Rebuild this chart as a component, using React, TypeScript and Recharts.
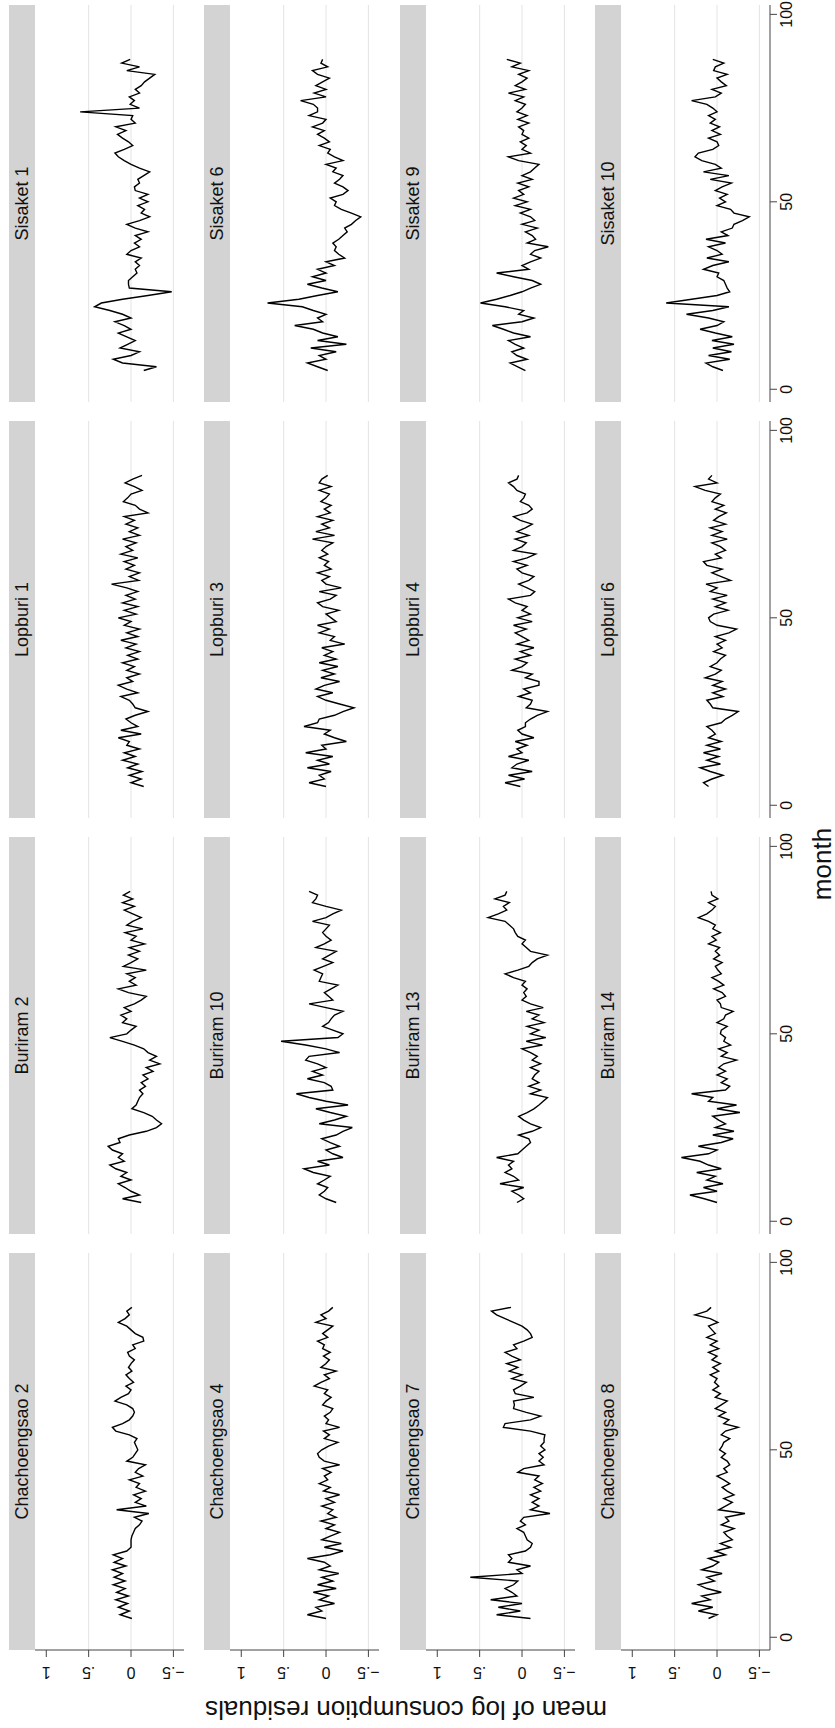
import React from "react";
import { LineChart, Line, XAxis, YAxis, ReferenceLine } from "recharts";

// month index shared by every panel
const months = [
  5, 6, 7, 8, 9, 10, 11, 12, 13, 14, 15, 16, 17, 18, 19, 20, 21, 22, 23, 24,
  25, 26, 27, 28, 29, 30, 31, 32, 33, 34, 35, 36, 37, 38, 39, 40, 41, 42, 43, 44,
  45, 46, 47, 48, 49, 50, 51, 52, 53, 54, 55, 56, 57, 58, 59, 60, 61, 62, 63, 64,
  65, 66, 67, 68, 69, 70, 71, 72, 73, 74, 75, 76, 77, 78, 79, 80, 81, 82, 83, 84,
  85, 86, 87, 88,
];

const chachoengsao2 = [
  -0.01, 0.13, 0.02, 0.15, 0.04, 0.18, 0.03, 0.17, 0.07, 0.21,
  0.07, 0.2, 0.1, 0.22, 0.06, 0.2, 0.1, 0.21, 0.05, 0.0,
  0.0, 0.0, -0.01, -0.03, -0.05, -0.1, -0.13, -0.04, -0.21, 0.17, -0.18,
  -0.05, -0.12, -0.03, -0.17, -0.06, -0.1, 0.02, -0.14, -0.05, -0.09,
  -0.17, 0.05, -0.02, -0.05, -0.08, -0.06, -0.04, -0.07, 0.02, 0.18,
  0.22, 0.1, 0.02, -0.02, -0.04, -0.02, 0.05, 0.19, 0.12, 0.03,
  0.0, 0.06, -0.03, 0.02, 0.06, -0.01, 0.03, 0.0, -0.04, 0.02,
  0.04, -0.05, -0.02, -0.15, -0.14, -0.05, 0.0, 0.05, 0.15, 0.07, 0.02,
  0.05, -0.01,
];
const chachoengsao4 = [
  0.0, 0.22, 0.05, 0.12, -0.1, 0.08, -0.03, 0.15, -0.12, 0.1,
  -0.08, 0.05, -0.15, 0.08, -0.05, 0.02, 0.22, -0.05, -0.2, 0.02,
  -0.18, 0.05, -0.05, -0.16, 0.0, -0.1, 0.06, -0.12, -0.02, -0.08, 0.05,
  -0.1, 0.0, -0.16, 0.03, -0.05, 0.08, -0.02, 0.02, -0.06, 0.04,
  -0.16, 0.02, 0.08, 0.1, 0.05, -0.03, -0.14, 0.02, -0.04, 0.03,
  -0.16, 0.0, -0.03, 0.02, -0.05, -0.08, 0.04, 0.0, -0.06, 0.02,
  -0.02, 0.14, 0.06, -0.04, 0.02, -0.12, 0.06, 0.0, -0.04, 0.03,
  -0.05, 0.04, 0.02, 0.1, -0.02, 0.04, -0.02, -0.08, 0.12, 0.0, 0.06,
  -0.03, -0.08,
];
const chachoengsao7 = [
  -0.1, 0.3, 0.02, 0.28, 0.0, 0.37, 0.06, 0.12, 0.2, 0.1,
  0.05, 0.61, 0.0, 0.06, -0.1, 0.16, 0.12, 0.16, -0.04, -0.1,
  -0.12, -0.06, -0.04, -0.02, 0.06, -0.04, 0.02, -0.02, -0.33, -0.1, -0.2,
  -0.12, -0.2, -0.1, -0.22, -0.14, -0.24, -0.15, -0.2, 0.05, -0.02,
  -0.26, -0.2, -0.25, -0.2, -0.27, -0.22, -0.26, -0.26, -0.27, -0.1,
  0.22, 0.2, -0.1, -0.22, -0.05, 0.1, 0.09, 0.1, -0.14, 0.08,
  0.1, 0.02, -0.05, 0.12, 0.0, 0.15, 0.05, 0.18, 0.02, 0.12,
  0.2, 0.06, 0.1, -0.02, -0.12, -0.1, -0.06, 0.0, 0.1, 0.2, 0.3,
  0.36, 0.13,
];
const chachoengsao8 = [
  0.1, 0.0, 0.22, 0.05, 0.3, 0.08, 0.18, -0.05, 0.12, 0.22,
  0.03, 0.12, -0.06, 0.18, 0.05, -0.02, 0.1, -0.1, 0.02, -0.16,
  -0.04, -0.18, -0.12, -0.08, -0.2, -0.05, -0.14, -0.1, -0.33, -0.02, -0.1,
  -0.18, -0.08, -0.2, -0.12, -0.06, -0.15, -0.08, 0.0, -0.12, -0.08,
  -0.15, -0.12, -0.05, -0.1, -0.03, -0.06, -0.08, -0.15, -0.05, -0.1,
  -0.25, -0.08, -0.14, -0.02, -0.1, 0.02, -0.05, -0.12, 0.02, -0.04,
  0.05, -0.02, 0.03, 0.0, 0.08, -0.02, 0.05, -0.04, 0.06, 0.0,
  0.1, -0.02, 0.08, 0.0, 0.12, 0.02, 0.06, 0.1, -0.01, 0.08, 0.26,
  0.12, 0.07,
];
const buriram2 = [
  -0.12, 0.1, -0.1, 0.0, 0.07, 0.15, 0.0, 0.12, 0.05, 0.18,
  0.25, 0.08, 0.15, 0.1, 0.22, 0.27, 0.13, 0.15, 0.02, -0.18,
  -0.3, -0.36, -0.3, -0.25, -0.15, -0.01, -0.06, -0.08, -0.1, -0.14, -0.1,
  -0.17, -0.12, -0.2, -0.14, -0.26, -0.18, -0.34, -0.22, -0.3, -0.2,
  -0.15, -0.04, 0.1, 0.25, 0.05, 0.0, -0.06, 0.1, 0.05, 0.12,
  0.0, 0.08, -0.04, -0.12, -0.18, 0.03, 0.15, -0.06, 0.02, -0.05,
  0.05, -0.18, 0.09, 0.0, -0.08, 0.03, -0.1, 0.02, -0.16, 0.0,
  -0.06, 0.07, -0.14, 0.05, -0.02, -0.12, -0.02, 0.08, -0.04, 0.1, -0.02,
  0.09, 0.01,
];
const buriram10 = [
  -0.12, 0.0, 0.08, 0.02, -0.02, 0.1, 0.02, -0.05, 0.15, 0.26,
  -0.04, 0.1, -0.2, -0.08, 0.0, -0.16, -0.05, 0.05, -0.12, -0.2,
  -0.31, 0.08, -0.1, -0.24, -0.05, 0.12, -0.26, 0.0, 0.2, 0.35, -0.08,
  -0.06, 0.02, 0.22, 0.04, 0.16, 0.0, 0.1, 0.24, 0.2, -0.16,
  0.0, 0.24, 0.53, -0.14, -0.2, -0.08, 0.04, -0.03, -0.06, -0.1,
  -0.2, 0.0, 0.2, -0.08, -0.03, 0.02, -0.06, -0.14, 0.08, 0.06,
  0.04, 0.14, 0.03, -0.08, 0.04, -0.04, -0.12, 0.12, 0.02, -0.06,
  0.0, 0.04, 0.0, -0.04, 0.16, 0.0, -0.08, -0.18, 0.0, 0.16, 0.12,
  0.1, 0.2,
];
const buriram13 = [
  0.06, -0.02, 0.04, 0.12, -0.02, 0.26, 0.04, 0.1, 0.2, 0.12,
  0.16, 0.1, 0.3, 0.05, 0.0, -0.05, -0.1, -0.08, 0.04, -0.12,
  -0.22, -0.1, -0.02, 0.04, -0.06, -0.14, -0.2, -0.25, -0.3, -0.1, -0.22,
  -0.08, -0.2, -0.12, -0.15, -0.2, -0.1, -0.22, -0.12, -0.18, -0.1,
  0.0, -0.24, -0.05, -0.28, -0.1, -0.2, -0.06, -0.26, -0.12, -0.2,
  -0.05, -0.25, -0.1, 0.0, -0.05, -0.02, -0.06, 0.0, -0.04, 0.1,
  0.2, 0.05, -0.08, -0.12, -0.18, -0.3, -0.1, -0.05, 0.0, -0.04,
  0.05, 0.08, 0.1, 0.15, 0.2, 0.4, 0.28, 0.18, 0.22, 0.15, 0.32,
  0.2, 0.18,
];
const buriram14 = [
  0.0, 0.15, 0.32, 0.0, 0.16, -0.07, 0.12, 0.02, 0.24, -0.05,
  0.1, 0.2, 0.42, 0.1, 0.0, 0.22, -0.05, -0.19, 0.05, -0.2,
  0.02, -0.1, -0.02, 0.05, -0.27, 0.0, -0.23, 0.1, 0.05, 0.3, -0.1,
  -0.15, -0.05, -0.12, 0.0, -0.1, -0.02, -0.08, -0.23, -0.05, -0.12,
  -0.02, -0.16, -0.08, -0.1, -0.04, -0.05, -0.12, 0.0, -0.08, -0.1,
  -0.19, -0.05, -0.04, 0.0, -0.1, -0.06, 0.04, -0.08, -0.02, 0.06,
  -0.05, -0.01, 0.02, -0.06, 0.04, -0.03, 0.02, -0.03, 0.1, 0.01,
  0.06, -0.04, 0.05, 0.02, 0.1, 0.22, 0.12, 0.06, 0.02, 0.1, -0.01,
  0.06, 0.07,
];
const lopburi1 = [
  -0.15, 0.0, -0.12, 0.02, -0.13, 0.04, -0.08, 0.1, -0.05, 0.08,
  -0.1, 0.05, 0.02, 0.15, -0.12, 0.12, -0.08, 0.0, 0.06, -0.05,
  -0.2, -0.05, -0.02, 0.02, 0.12, -0.08, 0.05, 0.15, -0.02, 0.05, -0.1,
  0.05, -0.04, 0.1, -0.08, 0.04, -0.1, 0.06, -0.06, 0.12, -0.08,
  0.05, -0.1, 0.08, 0.0, 0.15, -0.06, 0.08, -0.08, 0.1, -0.05,
  0.06, -0.08, 0.05, 0.23, -0.09, 0.02, -0.1, 0.06, -0.04, 0.08,
  -0.08, 0.12, -0.02, 0.06, -0.06, 0.1, -0.1, 0.02, -0.08, 0.06,
  -0.04, 0.08, -0.2, -0.1, -0.05, 0.09, 0.04, 0.0, -0.13, -0.04, 0.07,
  -0.02, -0.13,
];
const lopburi3 = [
  0.0, 0.2, 0.02, 0.08, -0.06, 0.22, -0.04, 0.1, -0.08, 0.24,
  0.0, 0.05, -0.24, -0.1, 0.02, -0.05, 0.26, 0.1, 0.08, -0.1,
  -0.2, -0.33, -0.16, 0.0, 0.1, -0.08, 0.12, 0.02, -0.16, 0.06, -0.1,
  0.04, -0.14, 0.08, -0.12, 0.02, -0.08, 0.05, -0.22, -0.05, -0.1,
  0.08, -0.04, 0.1, -0.12, -0.06, 0.0, -0.15, 0.04, 0.1, -0.05,
  -0.12, 0.08, -0.18, 0.0, 0.05, -0.04, 0.1, -0.06, 0.02, -0.03,
  0.08, -0.02, 0.05, 0.0, -0.08, 0.16, -0.1, 0.12, -0.04, 0.05,
  -0.08, 0.1, -0.05, 0.02, -0.06, 0.06, 0.0, -0.04, 0.08, -0.06, 0.08,
  0.05, -0.02,
];
const lopburi4 = [
  0.02, 0.2, -0.03, 0.16, -0.12, 0.12, 0.06, -0.08, 0.16, 0.0,
  0.06, -0.06, 0.08, -0.14, 0.0, 0.05, -0.04, -0.04, -0.1, -0.18,
  -0.3, -0.05, -0.1, -0.12, 0.04, -0.1, -0.02, -0.2, -0.2, -0.04, -0.12,
  0.12, 0.0, -0.06, 0.08, -0.1, 0.02, -0.14, 0.06, -0.08, 0.0,
  0.08, -0.05, 0.1, -0.12, 0.05, -0.1, 0.0, -0.06, 0.08, 0.16,
  -0.1, -0.15, -0.06, 0.04, -0.08, -0.14, 0.0, 0.06, -0.06, 0.1,
  -0.06, -0.16, 0.1, 0.0, -0.05, 0.08, -0.08, 0.06, -0.04, -0.12,
  0.02, 0.1, -0.06, -0.12, -0.08, 0.02, -0.02, -0.04, 0.06, 0.1, 0.16,
  0.06, 0.04,
];
const lopburi6 = [
  0.1, 0.16, 0.06, -0.07, 0.08, 0.2, -0.04, 0.12, -0.02, 0.16,
  -0.04, 0.12, -0.05, 0.1, 0.02, 0.06, 0.12, -0.05, -0.1, -0.18,
  -0.25, 0.05, 0.08, 0.12, -0.07, 0.05, -0.1, 0.05, -0.06, 0.14, 0.02,
  -0.05, 0.08, 0.0, -0.04, -0.1, 0.04, -0.06, 0.0, -0.1, 0.02,
  -0.14, -0.23, 0.0, 0.08, 0.1, 0.04, -0.13, 0.02, -0.1, 0.05,
  -0.12, 0.08, 0.0, 0.13, -0.16, -0.05, 0.06, -0.06, 0.12, 0.16,
  -0.05, 0.02, -0.1, -0.04, 0.06, -0.12, 0.06, -0.06, 0.08, -0.1,
  0.04, -0.02, -0.11, 0.02, -0.08, 0.06, 0.02, -0.04, 0.14, 0.26, 0.0,
  0.1, 0.06,
];
const sisaket1 = [
  -0.15, -0.3, 0.1, 0.21, 0.0, -0.1, 0.13, 0.04, -0.05, 0.05,
  0.15, 0.0, 0.08, 0.19, 0.0, 0.1, 0.25, 0.43, 0.35, 0.1,
  -0.2, -0.48, 0.02, 0.03, 0.03, -0.02, -0.07, -0.05, -0.1, -0.05, -0.12,
  0.05, 0.0, -0.1, -0.04, -0.12, -0.05, -0.2, -0.05, 0.05, -0.1,
  -0.22, -0.12, -0.16, -0.08, -0.2, -0.1, -0.2, -0.05, -0.04, -0.1,
  -0.08, -0.15, -0.22, -0.1, 0.0, 0.08, 0.15, 0.19, 0.08, -0.02,
  0.03, 0.1, 0.16, 0.06, 0.18, -0.05, 0.0, -0.02, 0.6, -0.1,
  0.01, -0.04, 0.02, -0.1, -0.05, -0.12, -0.16, -0.22, -0.28, 0.05, -0.1,
  0.11, 0.01,
];
const sisaket6 = [
  -0.02, 0.1, 0.22, 0.0, 0.08, -0.12, 0.18, -0.24, 0.1, -0.14,
  0.04, 0.15, 0.37, 0.04, 0.1, 0.0, 0.15, 0.28, 0.69, 0.32,
  0.1, -0.14, 0.05, 0.22, 0.0, 0.16, 0.0, 0.1, -0.1, 0.0, -0.22,
  -0.15, -0.1, -0.12, -0.08, -0.15, -0.2, -0.25, -0.22, -0.3, -0.35,
  -0.41, -0.3, -0.18, -0.1, -0.12, -0.05, -0.2, -0.26, -0.2, -0.1,
  -0.16, -0.2, -0.08, -0.12, 0.0, -0.2, -0.1, -0.02, -0.05, 0.08,
  -0.04, 0.02, 0.1, 0.02, 0.16, 0.04, 0.0, 0.2, 0.1, 0.1,
  0.15, 0.3, 0.0, 0.14, 0.0, 0.12, 0.04, -0.04, 0.1, 0.16, -0.02,
  0.06, 0.04,
];
const sisaket9 = [
  -0.04, 0.05, 0.14, -0.06, 0.06, 0.12, -0.02, 0.08, 0.16, -0.1,
  0.1, 0.22, 0.35, 0.0, -0.14, 0.04, -0.02, 0.2, 0.49, 0.3,
  0.14, 0.0, -0.1, -0.22, -0.12, 0.1, 0.3, -0.08, 0.0, -0.1, -0.22,
  -0.1, -0.15, -0.31, -0.06, -0.16, -0.12, -0.04, -0.18, 0.0, -0.15,
  -0.1, 0.02, -0.1, 0.08, -0.06, 0.1, -0.02, 0.04, -0.08, 0.05,
  -0.12, 0.0, -0.1, -0.15, -0.2, 0.04, 0.16, -0.1, 0.0, -0.05,
  0.02, -0.08, 0.0, -0.02, 0.04, -0.08, 0.05, -0.06, 0.06, 0.0,
  -0.04, 0.08, -0.02, 0.16, -0.04, 0.08, 0.0, -0.06, 0.04, -0.08, 0.12,
  0.02, 0.18,
];
const sisaket10 = [
  -0.07, 0.05, 0.13, -0.15, 0.1, -0.17, 0.05, -0.2, 0.06, -0.18,
  0.02, 0.2, 0.0, -0.08, 0.1, 0.36, 0.05, -0.14, 0.6, 0.3,
  0.0, -0.15, -0.12, -0.1, -0.08, 0.0, -0.02, 0.16, 0.05, -0.14, 0.12,
  -0.06, 0.0, 0.1, -0.1, 0.13, -0.13, -0.05, -0.18, -0.2, -0.3,
  -0.38, -0.2, -0.16, 0.0, -0.1, -0.03, -0.12, 0.02, -0.06, -0.17,
  0.08, -0.14, 0.16, -0.05, 0.02, 0.18, 0.26, 0.22, 0.05, -0.02,
  0.0, 0.1, -0.04, 0.06, -0.03, 0.08, 0.02, 0.1, 0.0, 0.05,
  0.12, 0.3, 0.02, -0.05, 0.06, -0.11, -0.05, 0.0, -0.12, 0.04, 0.02,
  -0.08, 0.05,
];

// rows / columns of the (unrotated) by-graph
const panelTitles = [
  ["Chachoengsao 2", "Buriram 2", "Lopburi 1", "Sisaket 1"],
  ["Chachoengsao 4", "Buriram 10", "Lopburi 3", "Sisaket 6"],
  ["Chachoengsao 7", "Buriram 13", "Lopburi 4", "Sisaket 9"],
  ["Chachoengsao 8", "Buriram 14", "Lopburi 6", "Sisaket 10"],
];
const panelSeries = [
  [chachoengsao2, buriram2, lopburi1, sisaket1],
  [chachoengsao4, buriram10, lopburi3, sisaket6],
  [chachoengsao7, buriram13, lopburi4, sisaket9],
  [chachoengsao8, buriram14, lopburi6, sisaket10],
];

const valueTicks = [-0.5, 0, 0.5, 1];
const gridValues = [-0.5, 0, 0.5];
const monthTicks = [0, 50, 100];

const FONT = '"Liberation Sans", Arial, Helvetica, sans-serif';
const PLOT_W = 397;
const PLOT_H = 149;
const STRIP_H = 26;
const COL_X = [78, 494, 910, 1326];
const ROW_Y = [35, 230.4, 425.8, 621.2];
const AXIS = "#444";

const fmtValue = (v: number) =>
  v === 1 ? "1" : v === 0.5 ? ".5" : v === 0 ? "0" : "\u2212.5";

// stata draws y labels parallel to the axis
const ValueTick = (props: any) => {
  const { x, y, payload } = props;
  return (
    <text
      x={x}
      y={y}
      transform={`rotate(-90 ${x} ${y})`}
      textAnchor="middle"
      fontSize={16}
      fontFamily={FONT}
      fill="#111"
    >
      {fmtValue(payload.value)}
    </text>
  );
};

const Panel = ({ row, col }: { row: number; col: number }) => {
  const values = panelSeries[row][col];
  const data = months.map((m, i) => ({ month: m, value: values[i] }));
  const showY = col === 0;
  const showX = row === 3;
  const yw = showY ? 78 : 0;
  const xh = showX ? 40 : 0;
  // extra room so the outermost tick labels are not clipped
  const padBottom = showY && !showX ? 18 : 0;
  const padRight = showX ? 24 : 0;

  return (
    <>
      <div
        style={{
          position: "absolute",
          left: COL_X[col],
          top: ROW_Y[row] - STRIP_H,
          width: PLOT_W,
          height: STRIP_H,
          background: "#d3d3d3",
          color: "#111",
          fontFamily: FONT,
          fontSize: 18,
          lineHeight: `${STRIP_H}px`,
          textAlign: "center",
          whiteSpace: "nowrap",
        }}
      >
        {panelTitles[row][col]}
      </div>
      <div style={{ position: "absolute", left: COL_X[col] - yw, top: ROW_Y[row] }}>
        <LineChart
          width={PLOT_W + yw + padRight}
          height={PLOT_H + xh + padBottom}
          data={data}
          margin={{ top: 0, right: padRight, bottom: padBottom, left: 0 }}
        >
          <XAxis
            dataKey="month"
            type="number"
            domain={[-3.4, 102.5]}
            ticks={monthTicks}
            hide={!showX}
            height={xh}
            tickSize={7}
            tickMargin={4}
            axisLine={{ stroke: AXIS }}
            tickLine={{ stroke: AXIS }}
            tick={{ fill: "#111", fontSize: 16, fontFamily: FONT }}
          />
          <YAxis
            type="number"
            domain={[-0.625, 1.133]}
            ticks={valueTicks}
            hide={!showY}
            width={yw}
            tickSize={7}
            tickMargin={10}
            axisLine={{ stroke: AXIS }}
            tickLine={{ stroke: AXIS }}
            tick={(p: any) => <ValueTick {...p} />}
          />
          {gridValues.map((v) => (
            <ReferenceLine key={v} y={v} stroke="#e4e4e4" strokeWidth={1} />
          ))}
          <Line
            type="linear"
            dataKey="value"
            stroke="#000"
            strokeWidth={1.4}
            dot={false}
            isAnimationActive={false}
          />
        </LineChart>
      </div>
    </>
  );
};

export default function App() {
  const rows = [0, 1, 2, 3];
  const cols = [0, 1, 2, 3];
  return (
    <div
      style={{
        position: "absolute",
        left: 0,
        top: 0,
        width: 835,
        height: 1728,
        overflow: "hidden",
        background: "#fff",
      }}
    >
      {/* the original landscape graph, turned a quarter left */}
      <div
        style={{
          position: "absolute",
          left: 0,
          top: 0,
          width: 1728,
          height: 835,
          transformOrigin: "0 0",
          transform: "translateY(1728px) rotate(-90deg)",
          background: "#fff",
        }}
      >
        {rows.map((r) => cols.map((c) => <Panel key={`${r}-${c}`} row={r} col={c} />))}

        <div
          style={{
            position: "absolute",
            left: 19,
            top: 406,
            transform: "translate(-50%, -50%) rotate(-90deg)",
            fontFamily: FONT,
            fontSize: 26,
            color: "#111",
            whiteSpace: "nowrap",
          }}
        >
          mean of log consumption residuals
        </div>
        <div
          style={{
            position: "absolute",
            left: 864,
            top: 822,
            transform: "translate(-50%, -50%)",
            fontFamily: FONT,
            fontSize: 26,
            color: "#111",
            whiteSpace: "nowrap",
          }}
        >
          month
        </div>
      </div>
    </div>
  );
}
